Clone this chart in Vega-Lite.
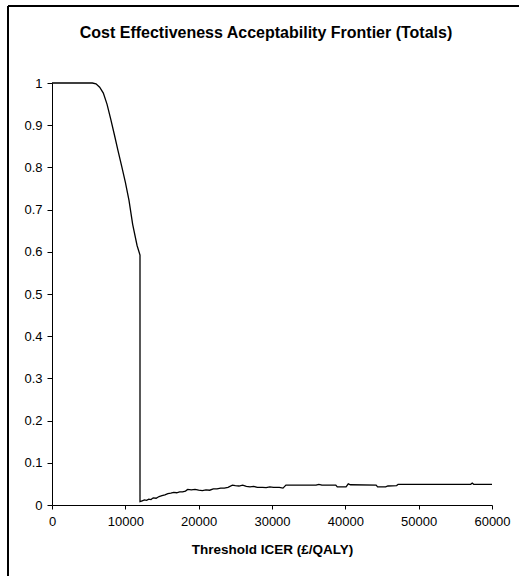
{
  "$schema": "https://vega.github.io/schema/vega-lite/v6.json",
  "width": 440,
  "height": 422,
  "autosize": {"type": "none"},
  "padding": {"left": 52, "top": 83, "right": 27, "bottom": 71},
  "background": "white",
  "title": {
    "text": "Cost Effectiveness Acceptability Frontier (Totals)",
    "font": "Liberation Sans",
    "fontSize": 16,
    "fontWeight": "bold",
    "color": "black",
    "anchor": "middle",
    "dx": -6,
    "offset": -36
  },
  "config": {
    "view": {"stroke": null},
    "axis": {
      "labelFont": "Liberation Sans",
      "labelFontSize": 13,
      "labelColor": "black",
      "labelFlush": false,
      "titleFont": "Liberation Sans",
      "titleFontSize": 13.5,
      "titleFontWeight": "bold",
      "titleColor": "black",
      "domainColor": "black",
      "tickColor": "black",
      "grid": false
    }
  },
  "data": {
    "values": [
      {"icer": 0, "p": 1.0},
      {"icer": 5500, "p": 1.0},
      {"icer": 6000, "p": 0.998},
      {"icer": 6500, "p": 0.99},
      {"icer": 7000, "p": 0.976},
      {"icer": 7500, "p": 0.950},
      {"icer": 8000, "p": 0.915},
      {"icer": 8500, "p": 0.878},
      {"icer": 9000, "p": 0.840},
      {"icer": 9500, "p": 0.803},
      {"icer": 10000, "p": 0.765},
      {"icer": 10500, "p": 0.722},
      {"icer": 11000, "p": 0.665},
      {"icer": 11600, "p": 0.615},
      {"icer": 12000, "p": 0.592},
      {"icer": 12001, "p": 0.008},
      {"icer": 12300, "p": 0.010},
      {"icer": 12600, "p": 0.012},
      {"icer": 12900, "p": 0.011},
      {"icer": 13200, "p": 0.014},
      {"icer": 13500, "p": 0.013},
      {"icer": 13800, "p": 0.017},
      {"icer": 14200, "p": 0.016},
      {"icer": 14600, "p": 0.020},
      {"icer": 15000, "p": 0.022},
      {"icer": 15400, "p": 0.024},
      {"icer": 15800, "p": 0.027},
      {"icer": 16200, "p": 0.028},
      {"icer": 16600, "p": 0.030},
      {"icer": 17000, "p": 0.029},
      {"icer": 17400, "p": 0.031},
      {"icer": 17800, "p": 0.031},
      {"icer": 18200, "p": 0.033},
      {"icer": 18500, "p": 0.037},
      {"icer": 19000, "p": 0.036},
      {"icer": 19500, "p": 0.037},
      {"icer": 20000, "p": 0.035},
      {"icer": 20500, "p": 0.034},
      {"icer": 21000, "p": 0.036},
      {"icer": 21500, "p": 0.035},
      {"icer": 22000, "p": 0.038},
      {"icer": 22500, "p": 0.038},
      {"icer": 23000, "p": 0.040},
      {"icer": 23500, "p": 0.040},
      {"icer": 24000, "p": 0.042},
      {"icer": 24600, "p": 0.047},
      {"icer": 25000, "p": 0.046},
      {"icer": 25500, "p": 0.045},
      {"icer": 26000, "p": 0.047},
      {"icer": 26500, "p": 0.044},
      {"icer": 27000, "p": 0.043},
      {"icer": 27500, "p": 0.044},
      {"icer": 28000, "p": 0.042},
      {"icer": 28700, "p": 0.042},
      {"icer": 29200, "p": 0.041},
      {"icer": 29700, "p": 0.043},
      {"icer": 30200, "p": 0.042},
      {"icer": 31000, "p": 0.042},
      {"icer": 31500, "p": 0.040},
      {"icer": 31900, "p": 0.047},
      {"icer": 33000, "p": 0.047},
      {"icer": 36000, "p": 0.047},
      {"icer": 36400, "p": 0.049},
      {"icer": 36800, "p": 0.047},
      {"icer": 38700, "p": 0.047},
      {"icer": 38900, "p": 0.043},
      {"icer": 40100, "p": 0.043},
      {"icer": 40400, "p": 0.050},
      {"icer": 40700, "p": 0.048},
      {"icer": 44200, "p": 0.047},
      {"icer": 44400, "p": 0.043},
      {"icer": 45500, "p": 0.043},
      {"icer": 45800, "p": 0.045},
      {"icer": 47000, "p": 0.046},
      {"icer": 47200, "p": 0.049},
      {"icer": 57100, "p": 0.049},
      {"icer": 57300, "p": 0.052},
      {"icer": 57500, "p": 0.049},
      {"icer": 60000, "p": 0.049}
    ]
  },
  "layer": [
    {
      "mark": {"type": "line", "color": "black", "strokeWidth": 1.3, "interpolate": "linear"},
      "encoding": {
        "x": {
          "field": "icer",
          "type": "quantitative",
          "scale": {"domain": [0, 60000], "nice": false},
          "axis": {
            "title": "Threshold ICER (£/QALY)",
            "values": [0, 10000, 20000, 30000, 40000, 50000, 60000],
            "format": "d",
            "tickSize": 4,
            "labelPadding": 6,
            "titlePadding": 14
          }
        },
        "y": {
          "field": "p",
          "type": "quantitative",
          "scale": {"domain": [0, 1], "nice": false},
          "axis": {
            "title": null,
            "values": [0, 0.1, 0.2, 0.3, 0.4, 0.5, 0.6, 0.7, 0.8, 0.9, 1],
            "format": ".1~f",
            "tickSize": 5,
            "labelPadding": 5
          }
        }
      }
    },
    {
      "mark": {"type": "rule", "color": "black", "strokeWidth": 1.5},
      "encoding": {
        "x": {"datum": -6000, "type": "quantitative"},
        "y": {"datum": -0.2, "type": "quantitative"},
        "y2": {"datum": 1.1825}
      }
    },
    {
      "mark": {"type": "rule", "color": "black", "strokeWidth": 1.5},
      "encoding": {
        "x": {"datum": -6000, "type": "quantitative"},
        "x2": {"datum": 70000},
        "y": {"datum": 1.1825, "type": "quantitative"}
      }
    }
  ]
}
